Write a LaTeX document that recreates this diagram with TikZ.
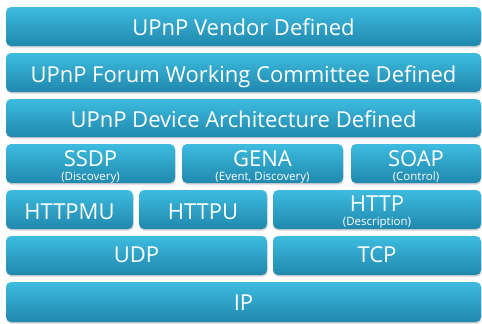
\documentclass[tikz,border=0pt]{standalone}
\usepackage{fontspec}
\setmainfont{Open Sans}
\usetikzlibrary{shadows}
\definecolor{boxtop}{HTML}{3DBCDF}
\definecolor{boxbot}{HTML}{2088AD}
\tikzset{
  layer/.style={rectangle, rounded corners=5pt, top color=boxtop, bottom color=boxbot,
    draw=none, inner sep=0pt,
    drop shadow={opacity=0.35, shadow xshift=0.6pt, shadow yshift=-1.6pt, fill=gray}},
  main/.style={text=white, inner sep=0pt, anchor=base, font=\fontsize{22}{24}\selectfont},
  sub/.style={text=white, inner sep=0pt, anchor=base, font=\fontsize{11.5}{13}\selectfont}
}
\begin{document}
\begin{tikzpicture}[x=1pt,y=-1pt]
\useasboundingbox[fill=white] (0,0) rectangle (482,324);
\node[layer, minimum width=475pt, minimum height=39pt] (vendor) at (243.5,26.5) {};
\node[main] (vendort) at (243.5,35) {UPnP Vendor Defined};
\node[layer, minimum width=475pt, minimum height=39pt] (forum) at (243.5,72.5) {};
\node[main] (forumt) at (243.5,82) {UPnP Forum Working Committee Defined};
\node[layer, minimum width=475pt, minimum height=38pt] (uda) at (243.5,118) {};
\node[main] (udat) at (243.5,127) {UPnP Device Architecture Defined};
% row 4
\node[layer, minimum width=169pt, minimum height=39pt] (ssdp) at (90.5,163.5) {};
\node[layer, minimum width=161pt, minimum height=39pt] (gena) at (262.5,163.5) {};
\node[layer, minimum width=130pt, minimum height=39pt] (soap) at (416,163.5) {};
\node[main] (ssdpt) at (90.5,166.5) {SSDP};
\node[sub] (ssdps) at (90.5,180) {(Discovery)};
\node[main] (genat) at (262.5,166.5) {GENA};
\node[sub] (genas) at (262.5,180) {(Event, Discovery)};
\node[main] (soapt) at (416,166.5) {SOAP};
\node[sub] (soaps) at (416,180) {(Control)};
% row 5
\node[layer, minimum width=127pt, minimum height=39pt] (httpmu) at (69.5,209.5) {};
\node[main] (httpmut) at (69.5,219.5) {HTTPMU};
\node[layer, minimum width=128pt, minimum height=39pt] (httpu) at (203,209.5) {};
\node[main] (httput) at (203,219.5) {HTTPU};
\node[layer, minimum width=208pt, minimum height=39pt] (http) at (377,209.5) {};
\node[main] (httpt) at (377,211.5) {HTTP};
\node[sub] (https) at (377,225.5) {(Description)};
% row 6
\node[layer, minimum width=261pt, minimum height=39pt] (udp) at (136.5,255.5) {};
\node[main] (udpt) at (136.5,262) {UDP};
\node[layer, minimum width=208pt, minimum height=39pt] (tcp) at (377,255.5) {};
\node[main] (tcpt) at (377,262) {TCP};
% row 7
\node[layer, minimum width=475pt, minimum height=40pt] (ip) at (243.5,302) {};
\node[main] (ipt) at (243.5,310) {IP};
\end{tikzpicture}
\end{document}
